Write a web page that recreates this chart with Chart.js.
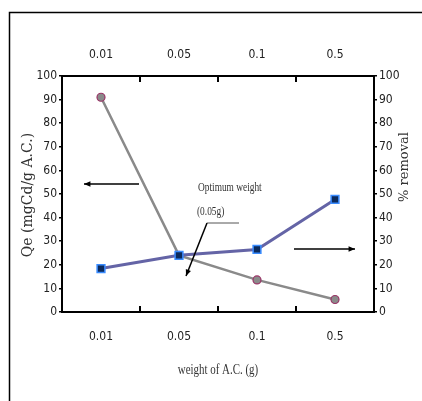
<!DOCTYPE html>
<html>
<head>
<meta charset="utf-8">
<script src="https://cdn.jsdelivr.net/npm/chart.js@4.4.1/dist/chart.umd.min.js"></script>
<style>
  html, body { margin: 0; padding: 0; background: #fff; }
  #wrap { width: 422px; height: 401px; }
</style>
</head>
<body>
<div id="wrap"><canvas id="chart" width="422" height="401"></canvas></div>
<script>
// weight of activated carbon (g)
const weights = ['0.01', '0.05', '0.1', '0.5'];
// Qe (mgCd/g A.C.) - left axis
const qeValues = [91, 24, 13.6, 5.3];
// % removal - right axis
const removalValues = [18.4, 24, 26.5, 47.7];
const yTicks = [0, 10, 20, 30, 40, 50, 60, 70, 80, 90, 100];

const tickFont = { family: "'Liberation Sans Narrow', 'Arial Narrow', 'DejaVu Sans Condensed', sans-serif", size: 12, weight: 'normal condensed' };

// extra drawing: frame, inward boundary ticks, titles, arrows, note
const decorations = {
    id: 'decorations',
    afterDraw(chart) {
        const ctx = chart.ctx;
        const area = chart.chartArea;
        const x = chart.scales.x;

        ctx.save();
        ctx.strokeStyle = '#000';

        // outer frame
        ctx.lineWidth = 1.5;
        ctx.strokeRect(9.5, 12.5, 430, 420);

        // inward ticks between categories, top and bottom
        ctx.lineWidth = 2;
        for (let i = 1; i < weights.length; i++) {
            const px = (x.getPixelForValue(i - 1) + x.getPixelForValue(i)) / 2;
            ctx.beginPath();
            ctx.moveTo(px, area.bottom);
            ctx.lineTo(px, area.bottom - 6);
            ctx.moveTo(px, area.top);
            ctx.lineTo(px, area.top + 6);
            ctx.stroke();
        }

        // axis titles
        ctx.fillStyle = '#333';
        ctx.font = "14px 'DejaVu Serif', serif";
        ctx.textAlign = 'center';
        ctx.textBaseline = 'middle';
        ctx.save();
        ctx.translate(28, 195);
        ctx.rotate(-Math.PI / 2);
        ctx.fillText('Qe (mgCd/g A.C.)', 0, 0);
        ctx.restore();

        ctx.font = "13px 'DejaVu Serif', serif";
        ctx.save();
        ctx.translate(405, 167);
        ctx.rotate(-Math.PI / 2);
        ctx.fillText('% removal', 0, 0);
        ctx.restore();

        ctx.font = "14px 'Liberation Serif', serif";
        ctx.save();
        ctx.translate(218, 370);
        ctx.scale(0.78, 1);
        ctx.fillText('weight of A.C. (g)', 0, 0);
        ctx.restore();

        // note
        ctx.font = "13px 'Liberation Serif', serif";
        ctx.textAlign = 'left';
        ctx.save();
        ctx.translate(198, 188);
        ctx.scale(0.72, 1);
        ctx.fillText('Optimum weight', 0, 0);
        ctx.restore();
        ctx.save();
        ctx.translate(197, 212);
        ctx.scale(0.72, 1);
        ctx.fillText('(0.05g)', 0, 0);
        ctx.restore();

        // arrows
        function arrow(x1, y1, x2, y2) {
            const a = Math.atan2(y2 - y1, x2 - x1);
            ctx.strokeStyle = '#000';
            ctx.fillStyle = '#000';
            ctx.lineWidth = 1.5;
            ctx.beginPath();
            ctx.moveTo(x1, y1);
            ctx.lineTo(x2, y2);
            ctx.stroke();
            ctx.beginPath();
            ctx.moveTo(x2, y2);
            ctx.lineTo(x2 - 7 * Math.cos(a - 0.4), y2 - 7 * Math.sin(a - 0.4));
            ctx.lineTo(x2 - 7 * Math.cos(a + 0.4), y2 - 7 * Math.sin(a + 0.4));
            ctx.closePath();
            ctx.fill();
        }
        arrow(139, 184, 84, 184);
        arrow(294, 249, 355, 249);

        ctx.strokeStyle = '#555';
        ctx.lineWidth = 1;
        ctx.beginPath();
        ctx.moveTo(207, 223);
        ctx.lineTo(239, 223);
        ctx.stroke();
        arrow(207, 223, 186, 276);

        ctx.restore();
    }
};

const chartCanvas = document.getElementById('chart').getContext('2d');

new Chart(chartCanvas, {
    type: 'line',
    data: {
        labels: weights,
        datasets: [{
            label: '% removal',
            data: removalValues,
            yAxisID: 'y2',
            borderColor: '#6464a6',
            borderWidth: 3,
            pointStyle: 'rect',
            pointRadius: 5.5,
            pointBackgroundColor: '#0b2a5c',
            pointBorderColor: '#3a8cff',
            pointBorderWidth: 1.5
        }, {
            label: 'Qe',
            data: qeValues,
            yAxisID: 'y',
            borderColor: '#8a8a8a',
            borderWidth: 2.5,
            pointStyle: 'circle',
            pointRadius: 4,
            pointBackgroundColor: '#8a8a8a',
            pointBorderColor: '#9a3366',
            pointBorderWidth: 1.2
        }]
    },
    options: {
        responsive: false,
        animation: false,
        layout: { padding: 0 },
        plugins: {
            legend: { display: false },
            tooltip: { enabled: false }
        },
        scales: {
            x: {
                position: 'bottom',
                offset: true,
                grid: { display: false },
                border: { display: true, color: '#000', width: 2 },
                ticks: { color: '#222', font: tickFont, padding: 10, maxRotation: 0 },
                afterFit(scale) { scale.height = 89; }
            },
            x2: {
                type: 'category',
                labels: weights,
                position: 'top',
                offset: true,
                grid: { display: false },
                border: { display: true, color: '#000', width: 2 },
                ticks: { color: '#222', font: tickFont, padding: 6, maxRotation: 0 },
                afterFit(scale) { scale.height = 76; }
            },
            y: {
                position: 'left',
                min: 0,
                max: 100,
                afterBuildTicks(scale) { scale.ticks = yTicks.map(v => ({ value: v })); },
                grid: { display: true, drawOnChartArea: false, color: '#000', lineWidth: 1.5, tickLength: 3 },
                border: { display: true, color: '#000', width: 2 },
                ticks: { color: '#222', font: tickFont, padding: 2 },
                afterFit(scale) { scale.width = 62; }
            },
            y2: {
                position: 'right',
                min: 0,
                max: 100,
                afterBuildTicks(scale) { scale.ticks = yTicks.map(v => ({ value: v })); },
                grid: { display: true, drawOnChartArea: false, color: '#000', lineWidth: 1.5, tickLength: 3 },
                border: { display: true, color: '#000', width: 2 },
                ticks: { color: '#222', font: tickFont, padding: 2 },
                afterFit(scale) { scale.width = 48; }
            }
        }
    },
    plugins: [decorations]
});
</script>
</body>
</html>
